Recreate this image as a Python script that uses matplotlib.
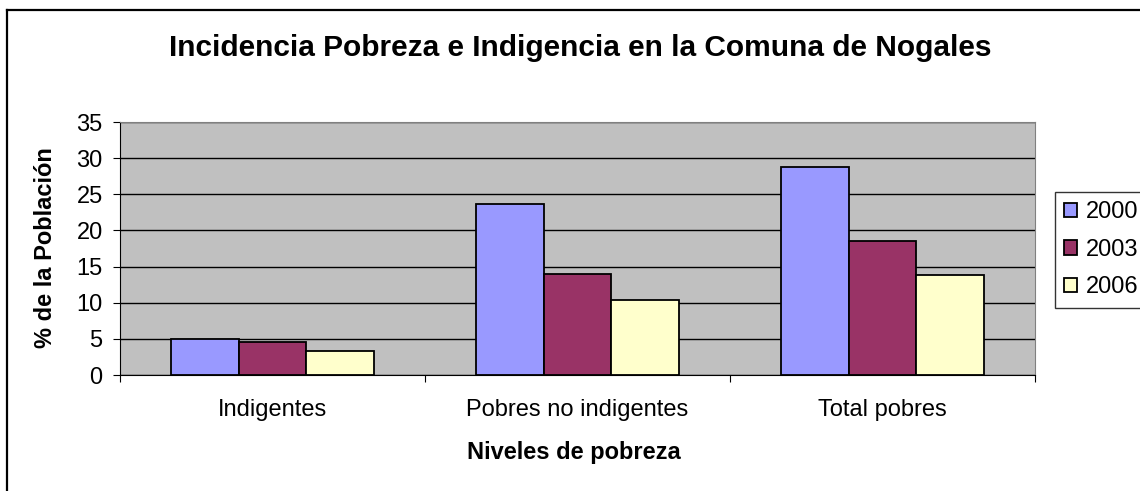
"""
bar chart: incidencia de pobreza e indigencia en la comuna de nogales
"""

import numpy as np
import matplotlib.pyplot as plt
from matplotlib.lines import Line2D

plt.rcParams["font.family"] = ["Liberation Sans", "DejaVu Sans"]

categories = ["Indigentes", "Pobres no indigentes", "Total pobres"]
years = ["2000", "2003", "2006"]
v2000 = [5.0, 23.7, 28.8]
v2003 = [4.6, 14.0, 18.6]
v2006 = [3.3, 10.4, 13.8]
colors = ["#9999FF", "#993366", "#FFFFCC"]


def plot_data():
    W, H = 1140, 491
    fig = plt.figure(figsize=(W / 100, H / 100), dpi=100)
    ax = fig.add_axes([120 / W, 1 - 375 / H, 915 / W, 253 / H])
    ax.set_facecolor("#C0C0C0")

    x = np.arange(len(categories))
    w = 1 / 4.5
    for i, (vals, yr) in enumerate(zip([v2000, v2003, v2006], years)):
        ax.bar(x + (i - 1) * w, vals, w, color=colors[i], edgecolor="black",
               linewidth=1.3, label=yr, zorder=3)

    ax.set_xlim(-0.5, 2.5)
    ax.set_ylim(0, 35)
    ax.set_yticks(range(0, 36, 5))
    ax.yaxis.grid(True, color="black", linewidth=1, zorder=1)
    ax.set_axisbelow(True)

    ax.set_xticks([-0.5, 0.5, 1.5, 2.5])
    ax.set_xticklabels([])
    ax.set_xticks(x, minor=True)
    ax.set_xticklabels(categories, minor=True, fontsize=17)
    ax.tick_params(axis="x", which="minor", length=0, pad=17)
    ax.tick_params(axis="x", which="major", length=5, color="black")
    ax.tick_params(axis="y", labelsize=17, length=5, pad=7.5)

    for s in ["top", "right"]:
        ax.spines[s].set_color("#808080")
    ax.spines["left"].set_color("black")
    ax.spines["bottom"].set_color("black")

    fig.text(574 / W, 1 - 452 / H, "Niveles de pobreza", ha="center", va="center",
             fontsize=17, fontweight="bold")
    fig.text(46 / W, 1 - 248 / H, "% de la Población", ha="center", va="center",
             rotation=90, fontsize=17, fontweight="bold")
    fig.text(580 / W, 1 - 48 / H, "Incidencia Pobreza e Indigencia en la Comuna de Nogales",
             ha="center", va="center", fontsize=21.5, fontweight="bold")

    leg = fig.legend(loc="upper left", bbox_to_anchor=(1055 / W, 1 - 192 / H),
                     fontsize=17, frameon=True, fancybox=False, edgecolor="black",
                     handlelength=0.55, handleheight=0.55, handletextpad=0.35,
                     borderpad=0.4, labelspacing=0.65, borderaxespad=0)
    leg.get_frame().set_linewidth(1)

    # marco del grafico (solo izquierda y arriba quedan dentro de la imagen)
    fig.add_artist(Line2D([7 / W, 7 / W], [0, 1 - 10 / H], color="black", linewidth=1.6))
    fig.add_artist(Line2D([7 / W, 1], [1 - 10 / H, 1 - 10 / H], color="black", linewidth=1.6))

    fig.savefig("out.png", dpi=100)


def run():
    plot_data()


if __name__ == "__main__":
    run()
